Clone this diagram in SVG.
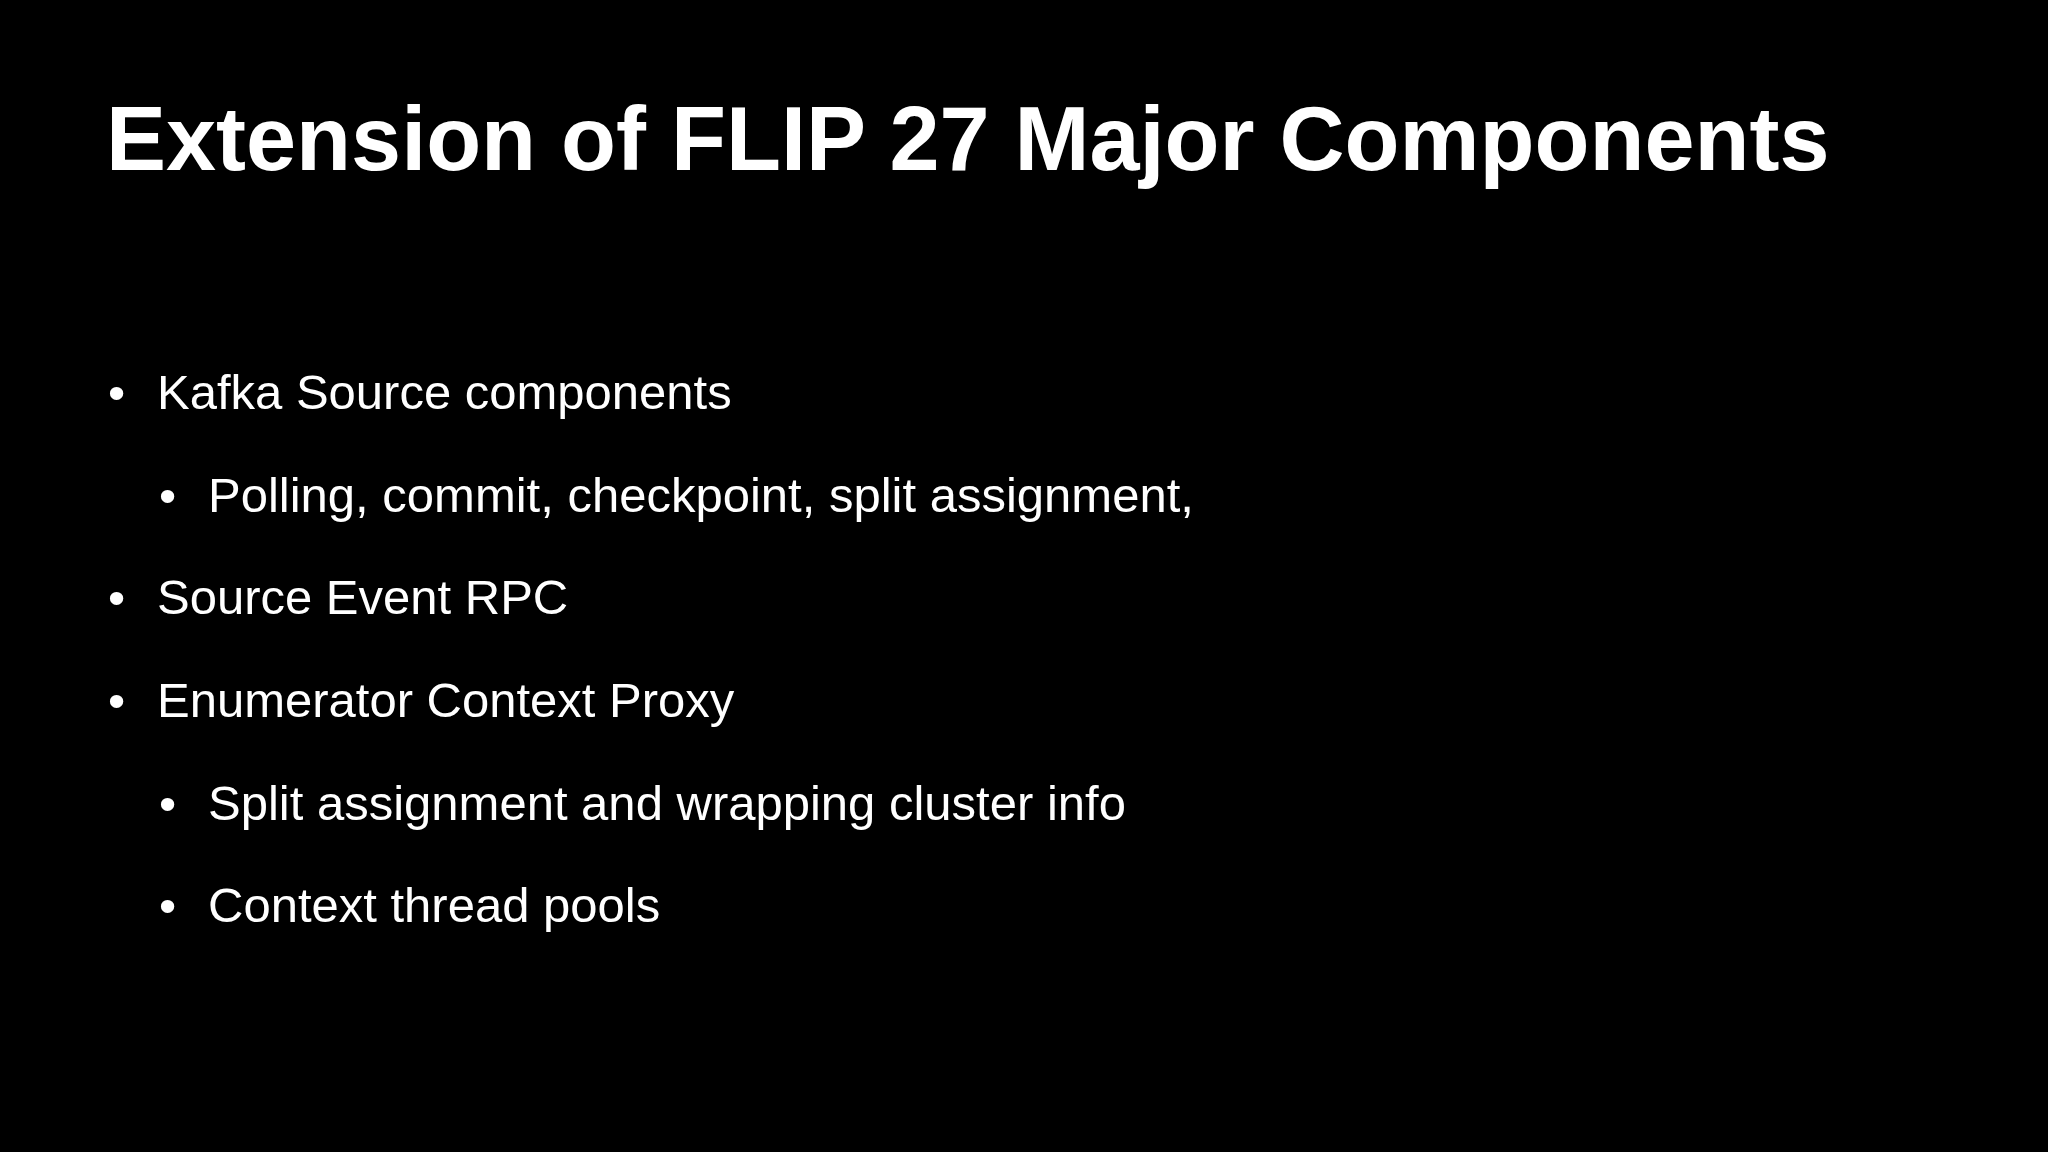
<svg xmlns="http://www.w3.org/2000/svg" width="2048" height="1152" viewBox="0 0 2048 1152">
<style>
.t{font-family:"Liberation Sans",Arial,sans-serif;fill:#fff}
.h{font-size:90px;font-weight:bold}
.b{font-size:49px}
</style>
<rect width="2048" height="1152" fill="#000"/>
<text class="t h" x="106" y="170">Extension of FLIP 27 Major Components</text>
<g id="items" class="t b">
<text x="108" y="409">•</text><text x="157" y="409">Kafka Source components</text>
<text x="159" y="512">•</text><text x="208" y="512">Polling, commit, checkpoint, split assignment,</text>
<text x="108" y="614">•</text><text x="157" y="614">Source Event RPC</text>
<text x="108" y="717">•</text><text x="157" y="717">Enumerator Context Proxy</text>
<text x="159" y="820">•</text><text x="208" y="820">Split assignment and wrapping cluster info</text>
<text x="159" y="922">•</text><text x="208" y="922">Context thread pools</text>
</g>
</svg>
